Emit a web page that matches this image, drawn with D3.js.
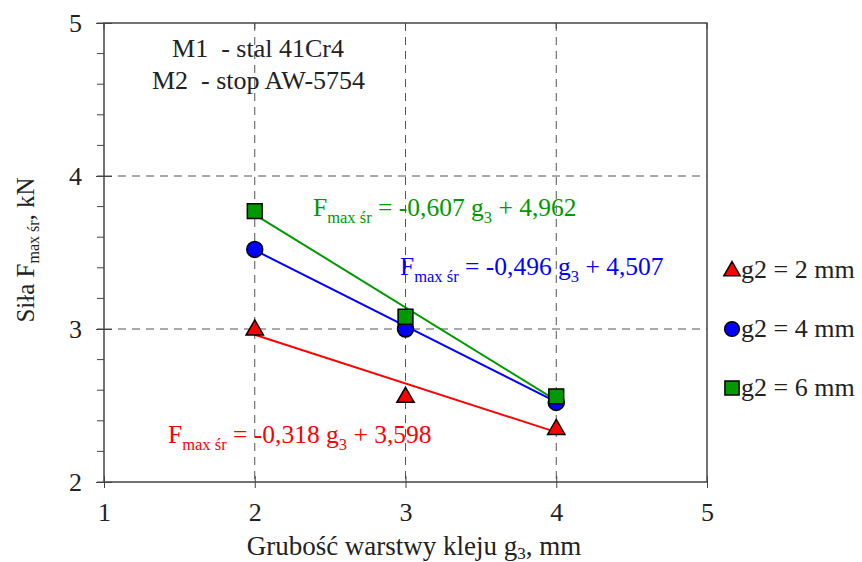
<!DOCTYPE html>
<html><head><meta charset="utf-8">
<script src="https://cdn.jsdelivr.net/npm/d3@7"></script>
<style>body{margin:0;background:#fff}svg{display:block}</style>
</head><body>
<svg id="c" width="862" height="562" font-family="Liberation Serif"></svg>
<script>
const xValues = [2, 3, 4];
const seriesNames = ["g2 = 2 mm", "g2 = 4 mm", "g2 = 6 mm"];
const valsG2_2 = [3.00, 2.56, 2.35];
const valsG2_4 = [3.52, 3.00, 2.52];
const valsG2_6 = [3.77, 3.08, 2.56];
const slopes = [-0.318, -0.496, -0.607];
const intercepts = [3.598, 4.507, 4.962];
const eqTexts = [["-0,318", "3,598"], ["-0,496", "4,507"], ["-0,607", "4,962"]];
const colors = ["#ff0000", "#0000ff", "#009900"];
const xTicks = [1, 2, 3, 4, 5];
const yTicks = [2, 3, 4, 5];

const FF = "Liberation Serif";
const svg = d3.select("#c");
const L = 104, R = 707, T = 23, B = 482;
const x = d3.scaleLinear().domain([1, 5]).range([L, R]);
const y = d3.scaleLinear().domain([2, 5]).range([B, T]);
const series = [valsG2_2, valsG2_4, valsG2_6];

function txt(sel, size) {
  return sel.attr("font-family", FF).attr("font-size", size);
}

// grid
const grid = svg.append("g").attr("stroke", "#555").attr("stroke-width", 1).attr("stroke-dasharray", "8,6");
[2, 3, 4].forEach(v => grid.append("line").attr("x1", x(v)).attr("x2", x(v)).attr("y1", T).attr("y2", B));
[3, 4].forEach(v => grid.append("line").attr("x1", L).attr("x2", R).attr("y1", y(v)).attr("y2", y(v)));

// frame
svg.append("rect").attr("x", L).attr("y", T).attr("width", R - L).attr("height", B - T)
  .attr("fill", "none").attr("stroke", "#444").attr("stroke-width", 1.5);

// axes
const xAxis = d3.axisBottom(x).tickValues(xTicks).tickSize(6).tickFormat(d3.format("d"));
const gx = svg.append("g").attr("transform", `translate(0,${B})`).call(xAxis);
txt(gx, 26);
gx.select(".domain").remove();
gx.selectAll(".tick line").attr("y1", -6).attr("y2", 6).attr("stroke", "#444");
txt(gx.selectAll(".tick text"), 26).attr("y", 39).attr("dy", 0).attr("fill", "#222");
svg.append("g").selectAll("line").data(xTicks).join("line")
  .attr("x1", d => x(d)).attr("x2", d => x(d)).attr("y1", T).attr("y2", T + 6).attr("stroke", "#444");

const yAxis = d3.axisLeft(y).tickValues(yTicks).tickSize(8).tickFormat(d3.format("d"));
const gy = svg.append("g").attr("transform", `translate(${L},0)`).call(yAxis);
txt(gy, 26);
gy.select(".domain").remove();
gy.selectAll(".tick line").attr("x1", 8).attr("stroke", "#444");
txt(gy.selectAll(".tick text"), 26).attr("x", -22).attr("dy", "0.33em").attr("fill", "#222");
const minor = d3.range(2, 5.001, 0.2);
svg.append("g").selectAll("line").data(minor).join("line")
  .attr("x1", L - 7).attr("x2", L).attr("y1", d => y(d)).attr("y2", d => y(d)).attr("stroke", "#444");

// axis titles
const xt = txt(svg.append("text"), 27).attr("x", 414).attr("y", 555).attr("text-anchor", "middle").attr("fill", "#222");
xt.append("tspan").text("Grubość warstwy kleju g");
xt.append("tspan").text("3").attr("font-size", 17).attr("dy", 4);
xt.append("tspan").text(", mm").attr("dy", -4);

const yt = txt(svg.append("text"), 25).attr("transform", "translate(34,250) rotate(-90)").attr("text-anchor", "middle").attr("fill", "#222");
yt.append("tspan").text("Siła F");
yt.append("tspan").text("max śr").attr("font-size", 16).attr("dy", 5);
yt.append("tspan").text(", kN").attr("dy", -5);

// annotation
txt(svg.append("text"), 26).attr("x", 258).attr("y", 57).attr("text-anchor", "middle")
  .attr("fill", "#222").style("white-space", "pre").text("M1  - stal 41Cr4");
txt(svg.append("text"), 26).attr("x", 258.5).attr("y", 89).attr("text-anchor", "middle")
  .attr("fill", "#222").style("white-space", "pre").text("M2  - stop AW-5754");

// trend lines
series.forEach((s, i) => {
  svg.append("line")
    .attr("x1", x(2)).attr("y1", y(slopes[i] * 2 + intercepts[i]))
    .attr("x2", x(4)).attr("y2", y(slopes[i] * 4 + intercepts[i]))
    .attr("stroke", colors[i]).attr("stroke-width", 2);
});

// markers
const symTypes = [d3.symbolTriangle, d3.symbolCircle, d3.symbolSquare];
const symSizes = [130, 200, 220];
series.forEach((s, i) => {
  svg.append("g").selectAll("path").data(s).join("path")
    .attr("d", d3.symbol().type(symTypes[i]).size(symSizes[i]))
    .attr("transform", (d, j) => `translate(${x(xValues[j])},${y(d) + (i === 0 ? 1 : 0)})`)
    .attr("fill", colors[i]).attr("stroke", "#000").attr("stroke-width", 1.5);
});

// equations
const eqPos = [[168, 443], [400, 275], [313, 216]];
eqTexts.forEach((e, i) => {
  const t = txt(svg.append("text"), 25.5).attr("x", eqPos[i][0]).attr("y", eqPos[i][1]).attr("fill", colors[i]);
  t.append("tspan").text("F");
  t.append("tspan").text("max śr").attr("font-size", 16.5).attr("dy", 7);
  t.append("tspan").text(" = " + e[0] + " g").attr("dy", -7);
  t.append("tspan").text("3").attr("font-size", 16.5).attr("dy", 7);
  t.append("tspan").text(" + " + e[1]).attr("dy", -7);
});

// legend
const legY = [270, 329, 388];
seriesNames.forEach((n, i) => {
  svg.append("path").attr("d", d3.symbol().type(symTypes[i]).size(i === 0 ? 115 : (i === 1 ? 170 : 200)))
    .attr("transform", `translate(732,${legY[i] + (i === 0 ? 1 : 0)})`)
    .attr("fill", colors[i]).attr("stroke", "#000").attr("stroke-width", 1.5);
  txt(svg.append("text"), 26).attr("x", 741).attr("y", legY[i] + 8).attr("fill", "#222").text(n);
});
</script>
</body></html>
